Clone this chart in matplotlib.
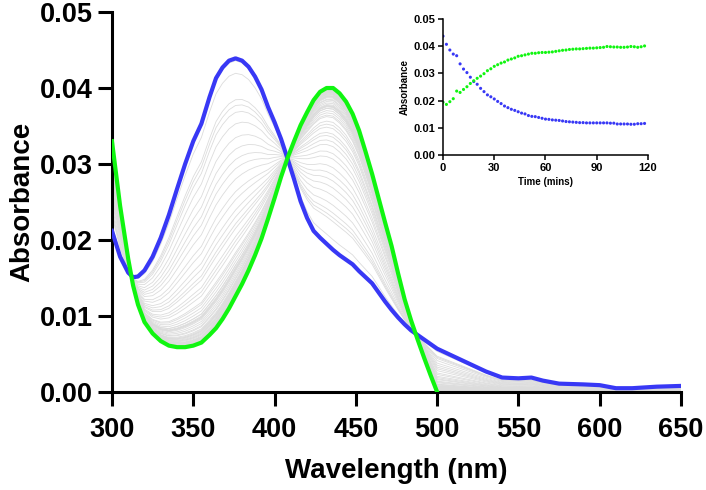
import numpy as np
import matplotlib.pyplot as plt

plt.rcParams['font.family'] = ['Liberation Sans', 'DejaVu Sans']
plt.rcParams['font.weight'] = 'bold'

# spectra (common wavelength grid)
wavelength = [300, 305, 310, 313, 316, 320, 325, 330, 335, 340, 345, 350, 355, 360,
              364, 368, 372, 376, 380, 384, 388, 392, 396, 400, 404, 408, 412, 416,
              420, 424, 428, 432, 436, 440, 444, 448, 452, 456, 460, 464, 468, 472,
              476, 480, 484, 488, 492, 496, 500,
              510, 520, 530, 540, 550, 558, 565, 575, 590, 600, 610, 620, 635, 650]
# t = 0 spectrum (blue)
abs_start = [0.0212, 0.0178, 0.0157, 0.0151, 0.0152, 0.0160, 0.0178, 0.0203, 0.0233,
             0.0267, 0.0300, 0.0330, 0.0353, 0.0388, 0.0413, 0.0427, 0.0436, 0.0439,
             0.0436, 0.0428, 0.0415, 0.0398, 0.0375, 0.0355, 0.0333, 0.0307, 0.0280,
             0.0251, 0.0229, 0.0212, 0.0203, 0.0195, 0.0187, 0.0180, 0.0174, 0.0168,
             0.0159, 0.0151, 0.0143, 0.0131, 0.0119, 0.0108, 0.0098, 0.0089, 0.0081,
             0.0075, 0.0069, 0.0063, 0.0057,
             0.0047, 0.0037, 0.0027, 0.0019, 0.0018, 0.0019, 0.0015, 0.0011, 0.0010,
             0.0009, 0.0005, 0.0005, 0.0007, 0.0008]
# final spectrum (green), recorded up to 500 nm
abs_end = [0.0330, 0.0245, 0.0175, 0.0140, 0.0115, 0.0092, 0.0077, 0.0067, 0.0061,
           0.0059, 0.0059, 0.0061, 0.0065, 0.0075, 0.0084, 0.0096, 0.0110, 0.0126,
           0.0142, 0.0160, 0.0180, 0.0202, 0.0228, 0.0255, 0.0283, 0.0308, 0.0330,
           0.0351, 0.0368, 0.0384, 0.0395, 0.0400, 0.0400, 0.0393, 0.0382, 0.0366,
           0.0344, 0.0316, 0.0287, 0.0255, 0.0223, 0.0192, 0.0156, 0.0122, 0.0094,
           0.0069, 0.0045, 0.0022, 0.0]

# kinetics (inset)
time_min = list(range(0, 120, 2))
abs_376 = [0.0437, 0.0407, 0.0386, 0.0371, 0.0365, 0.0335, 0.0316, 0.0303, 0.0286, 0.0270,
           0.0260, 0.0245, 0.0233, 0.0221, 0.0214, 0.0206, 0.0197, 0.0189, 0.0180, 0.0174,
           0.0168, 0.0164, 0.0159, 0.0154, 0.0151, 0.0145, 0.0142, 0.0141, 0.0138, 0.0135,
           0.0132, 0.0131, 0.0129, 0.0128, 0.0127, 0.0125, 0.0123, 0.0122, 0.0121, 0.0120,
           0.0119, 0.0119, 0.0118, 0.0118, 0.0118, 0.0118, 0.0118, 0.0118, 0.0118, 0.0117,
           0.0117, 0.0114, 0.0114, 0.0114, 0.0114, 0.0113, 0.0113, 0.0115, 0.0115, 0.0116]
abs_435 = [0.0194, 0.0186, 0.0196, 0.0207, 0.0235, 0.0230, 0.0241, 0.0251, 0.0263, 0.0273,
           0.0282, 0.0290, 0.0299, 0.0310, 0.0317, 0.0326, 0.0332, 0.0338, 0.0342, 0.0349,
           0.0353, 0.0357, 0.0363, 0.0365, 0.0368, 0.0371, 0.0374, 0.0374, 0.0376, 0.0377,
           0.0377, 0.0378, 0.0379, 0.0381, 0.0383, 0.0385, 0.0386, 0.0388, 0.0389, 0.0390,
           0.0390, 0.0391, 0.0392, 0.0393, 0.0393, 0.0394, 0.0395, 0.0396, 0.0399, 0.0398,
           0.0397, 0.0397, 0.0396, 0.0396, 0.0397, 0.0399, 0.0398, 0.0396, 0.0398, 0.0401]

BLUE = '#3838f5'
GREEN = '#10f510'

wl = np.array(wavelength)
a0 = np.array(abs_start)
a1 = np.zeros_like(a0)
a1[:len(abs_end)] = abs_end

fig = plt.figure(figsize=(7.06, 4.9), dpi=100)
ax = fig.add_axes([0.1586, 0.2, 0.806, 0.7755])

# intermediate spectra, weighted by progress seen at 435 nm
g = np.array(abs_435)
frac = (g - g[0]) / (g[-1] - g[0])
for f in frac[1:-1]:
    ax.plot(wl, a0 + np.clip(f, 0, 1) * (a1 - a0), color='#dcdcdc', lw=0.6, zorder=1)

ax.plot(wl, a0, color=BLUE, lw=3, zorder=3)
ax.plot(wl[:len(abs_end)], abs_end, color=GREEN, lw=3, zorder=4)

ax.set_xlim(300, 650)
ax.set_ylim(0, 0.05)
ax.set_xticks(range(300, 651, 50))
ax.set_yticks([0, 0.01, 0.02, 0.03, 0.04, 0.05])
ax.set_yticklabels(['0.00', '0.01', '0.02', '0.03', '0.04', '0.05'])
for s in ['top', 'right']:
    ax.spines[s].set_visible(False)
for s in ['left', 'bottom']:
    ax.spines[s].set_linewidth(2.2)
ax.tick_params(width=2.2, length=10, labelsize=19.5, pad=4)
ax.tick_params(axis='x', pad=8)
ax.set_xlabel('Wavelength (nm)', fontsize=20, fontweight='bold', labelpad=11)
ax.set_ylabel('Absorbance', fontsize=20, fontweight='bold', labelpad=3)

# inset
ins = fig.add_axes([0.6275, 0.6837, 0.2903, 0.2775])
ins.scatter(time_min, abs_376, s=5, color=BLUE, edgecolors='none', zorder=3)
ins.scatter(time_min, abs_435, s=5, color=GREEN, edgecolors='none', zorder=3)
ins.set_xlim(0, 120)
ins.set_ylim(0, 0.05)
ins.set_xticks([0, 30, 60, 90, 120])
ins.set_yticks([0, 0.01, 0.02, 0.03, 0.04, 0.05])
ins.set_yticklabels(['0.00', '0.01', '0.02', '0.03', '0.04', '0.05'])
for s in ['top', 'right']:
    ins.spines[s].set_visible(False)
for s in ['left', 'bottom']:
    ins.spines[s].set_linewidth(1.1)
ins.spines['left'].set_zorder(5)
ins.tick_params(width=1.1, length=3.5, labelsize=8, pad=2)
ins.set_xlabel('Time (mins)', fontsize=7, fontweight='bold', labelpad=3)
ins.set_ylabel('Absorbance', fontsize=7, fontweight='bold', labelpad=3)
for t in ins.get_xticklabels() + ins.get_yticklabels() + ax.get_xticklabels() + ax.get_yticklabels():
    t.set_fontweight('bold')

fig.savefig('out.png', dpi=100)
